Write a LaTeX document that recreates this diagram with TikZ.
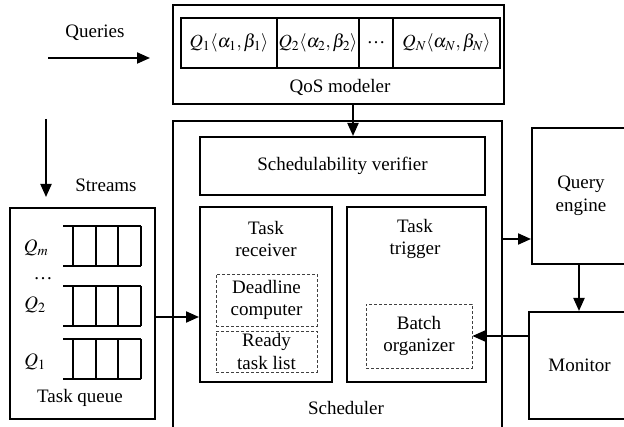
\documentclass[tikz,border=0pt]{standalone}
\usepackage{mathptmx}
\usepackage[no-math]{fontspec}
\setmainfont{Liberation Serif}
\usetikzlibrary{arrows.meta}

\begin{document}
\begin{tikzpicture}[x=1pt, y=-1pt, line width=2pt,
        font=\fontsize{19}{22.5}\selectfont,
        box/.style 2 args={draw, minimum width=#1pt, minimum height=#2pt, inner sep=0pt, align=center},
        cell/.style={box={#1}{50}, font=\fontsize{18.5}{21}\selectfont},
        sub/.style 2 args={draw, densely dashed, line width=0.8pt, black!75, text=black,
            minimum width=#1pt, minimum height=#2pt, inner sep=0pt, align=center},
        lbl/.style={inner sep=0pt, align=center},
        arr/.style={-{Triangle[length=13pt, width=11pt]}}]
    \useasboundingbox (0,0) rectangle (624,427);
    \clip (0,0) rectangle (624,427);

    % QoS modeler
    \node[box={331}{99}] (qos) at (338.5,54.5) {};
    \node[cell=96] (c1) at (229,43) {$Q_1\langle\alpha_1,\beta_1\rangle$};
    \node[cell=82] (c2) at (318,43) {$Q_2\langle\alpha_2,\beta_2\rangle$};
    \node[cell=34] (c3) at (376,43) {\dots};
    \node[cell=107] (c4) at (446.5,43) {$Q_N\langle\alpha_N,\beta_N\rangle$};
    \node[lbl] (qosl) at (340,87) {QoS modeler};
    \node[lbl] (qry) at (95,33) {Queries};
    \coordinate (qin) at (48,58);
    \coordinate (qout) at (150,58);
    \draw[arr] (qin) -- (qout);

    % scheduler
    \node[box={329}{316}] (sch) at (337.5,279) {};
    \node[box={285}{58}] (ver) at (342.5,166) {Schedulability verifier};
    \node[box={132}{175}] (rcv) at (266,294.5) {};
    \node[box={139}{175}] (trg) at (416.5,294.5) {};
    \node[lbl] (rcvl) at (266,239) {Task\\receiver};
    \node[lbl] (trgl) at (415,239) {Task\\trigger};
    \node[sub={101}{52}] (dl) at (266.5,300) {Deadline\\computer};
    \node[sub={101}{41}] (rdy) at (266.5,351.5) {Ready\\task list};
    \node[sub={106}{64}] (bat) at (419,336) {Batch\\organizer};
    \node[lbl] (schl) at (346,408) {Scheduler};
    \coordinate (qa) at (353,104);
    \draw[arr] (qa) -- (qa |- ver.north);

    % query engine and monitor
    \node[box={98}{136}] (qe) at (581,196) {Query\\engine};
    \node[box={101}{107}] (mon) at (579.5,365.5) {Monitor};
    \coordinate (ea) at (502,239);
    \draw[arr] (ea) -- (ea -| qe.west);
    \draw[arr] (qe.south -| 579,0) -- (mon.north -| 579,0);
    \draw[arr] (mon.west |- bat.east) -- (bat.east);

    % task queue
    \node[box={145}{211}] (tq) at (82.5,313.5) {};
    \node[lbl] (tql) at (80,398) {Task queue};
    \node[lbl] (str) at (106,185) {Streams};
    \coordinate (sin) at (46,119);
    \coordinate (sout) at (46,197);
    \draw[arr] (sin) -- (sout);
    \node[lbl] (qm) at (36,248) {$Q_m$};
    \node[lbl] (qd) at (43,279) {\dots};
    \node[lbl] (q2) at (35,305) {$Q_2$};
    \node[lbl] (q1) at (35,362) {$Q_1$};
    \foreach \qy in {226,286,339}{
        \draw (63,\qy) -- (141,\qy) (63,\qy+40) -- (141,\qy+40);
        \foreach \qx in {73,96,118,141} \draw (\qx,\qy) -- (\qx,\qy+40);
    }
    \coordinate (ta) at (155,317);
    \draw[arr] (ta) -- (ta -| rcv.west);
\end{tikzpicture}
\end{document}
